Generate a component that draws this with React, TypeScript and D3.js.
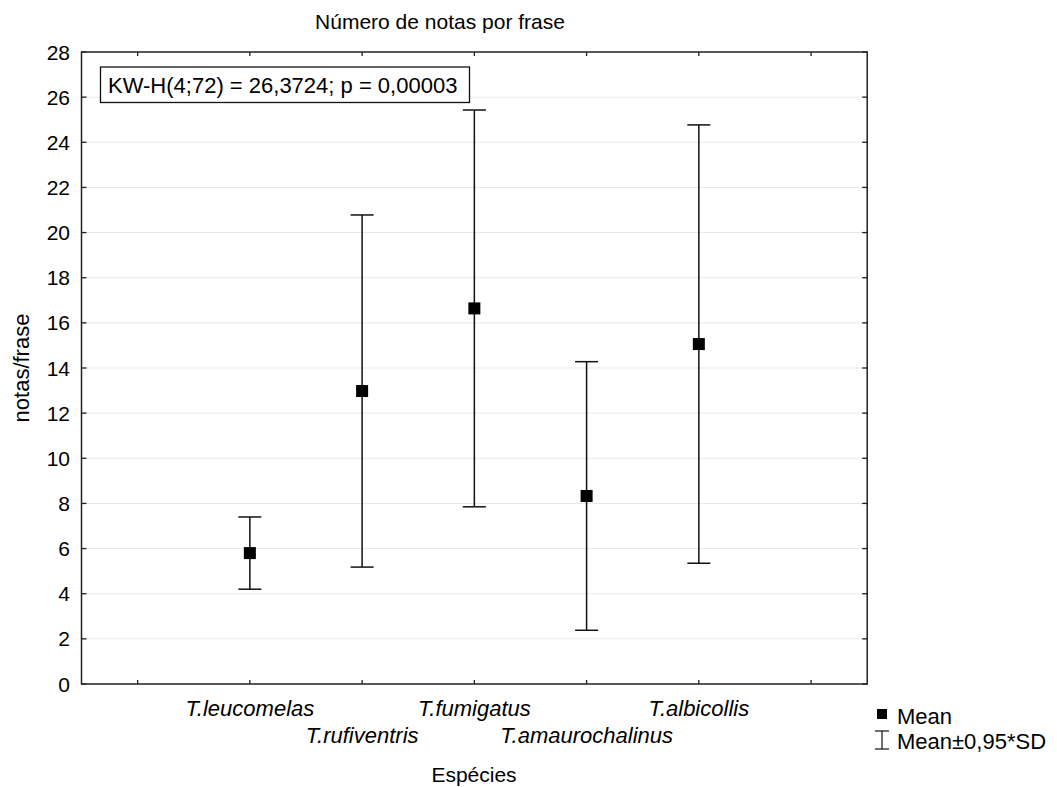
import { useEffect, useRef } from 'react';
import * as d3 from 'd3';

const species = ['T.leucomelas', 'T.rufiventris', 'T.fumigatus', 'T.amaurochalinus', 'T.albicollis'];
const means = [5.8, 12.98, 16.64, 8.33, 15.06];
const halfSD = [1.6, 7.8, 8.79, 5.95, 9.71]; // 0,95*SD
const yTicks = [0, 2, 4, 6, 8, 10, 12, 14, 16, 18, 20, 22, 24, 26, 28];
const xTicks = [0, 1, 2, 3, 4, 5, 6];

const FONT = '"Liberation Sans", Arial, sans-serif';

export default function App() {
  const svgRef = useRef<SVGSVGElement | null>(null);

  useEffect(() => {
    if (!svgRef.current) return;
    const svg = d3.select(svgRef.current);
    svg.selectAll('*').remove();

    const width = 1057;
    const height = 787;
    const margin = { top: 52, right: 190, bottom: 103, left: 81.5 };
    const left = margin.left;
    const right = width - margin.right;
    const top = margin.top;
    const bottom = height - margin.bottom;

    const x = d3.scaleLinear().domain([-0.5, 6.5]).range([left, right + 0.2]);
    const y = d3.scaleLinear().domain([0, 28]).range([bottom, top]);

    // gridlines
    svg.append('g')
      .selectAll('line')
      .data(yTicks.filter(d => d > 0 && d < 28))
      .join('line')
      .attr('x1', left).attr('x2', x(6.5))
      .attr('y1', d => y(d)).attr('y2', d => y(d))
      .attr('stroke', '#cfcfcf')
      .attr('stroke-width', 1)
      .attr('stroke-dasharray', '1,1');

    // frame
    svg.append('rect')
      .attr('x', left).attr('y', top)
      .attr('width', x(6.5) - left).attr('height', bottom - top)
      .attr('fill', 'none').attr('stroke', '#222').attr('stroke-width', 1.5);

    // inward ticks
    const ax = svg.append('g').attr('stroke', '#222').attr('stroke-width', 1.3);
    yTicks.forEach(t => {
      ax.append('line').attr('x1', left).attr('x2', left + 5).attr('y1', y(t)).attr('y2', y(t));
      ax.append('line').attr('x1', x(6.5)).attr('x2', x(6.5) - 5).attr('y1', y(t)).attr('y2', y(t));
    });
    xTicks.forEach(t => {
      ax.append('line').attr('x1', x(t)).attr('x2', x(t)).attr('y1', bottom).attr('y2', bottom - 4);
      ax.append('line').attr('x1', x(t)).attr('x2', x(t)).attr('y1', top).attr('y2', top + 4);
    });

    // y tick labels
    svg.append('g')
      .selectAll('text')
      .data(yTicks)
      .join('text')
      .attr('x', 70)
      .attr('y', d => y(d) + 7.5)
      .attr('text-anchor', 'end')
      .attr('font-family', FONT)
      .attr('font-size', 21)
      .attr('fill', '#000')
      .text(d => d);

    // category labels, staggered
    svg.append('g')
      .selectAll('text')
      .data(species)
      .join('text')
      .attr('x', (_, i) => x(i + 1))
      .attr('y', (_, i) => (i % 2 === 0 ? 716 : 743))
      .attr('text-anchor', 'middle')
      .attr('font-family', FONT)
      .attr('font-style', 'italic')
      .attr('font-size', 22)
      .attr('fill', '#000')
      .text(d => d);

    // error bars
    const capW = 11.5;
    const eb = svg.append('g').attr('stroke', '#111').attr('stroke-width', 1.5);
    species.forEach((_, i) => {
      const cx = x(i + 1);
      const hi = y(means[i] + halfSD[i]);
      const lo = y(means[i] - halfSD[i]);
      eb.append('line').attr('x1', cx).attr('x2', cx).attr('y1', hi).attr('y2', lo);
      eb.append('line').attr('x1', cx - capW).attr('x2', cx + capW).attr('y1', hi).attr('y2', hi);
      eb.append('line').attr('x1', cx - capW).attr('x2', cx + capW).attr('y1', lo).attr('y2', lo);
    });

    // means
    const ms = 12;
    svg.append('g')
      .selectAll('rect')
      .data(means)
      .join('rect')
      .attr('x', (_, i) => x(i + 1) - ms / 2)
      .attr('y', d => y(d) - ms / 2)
      .attr('width', ms).attr('height', ms)
      .attr('fill', '#000');

    // stats box
    svg.append('rect')
      .attr('x', 100.5).attr('y', 67)
      .attr('width', 369).attr('height', 35.5)
      .attr('fill', '#fff').attr('stroke', '#111').attr('stroke-width', 1.3);
    svg.append('text')
      .attr('x', 108).attr('y', 93)
      .attr('font-family', FONT).attr('font-size', 22).attr('fill', '#000')
      .text('KW-H(4;72) = 26,3724; p = 0,00003');

    // title and axis labels
    svg.append('text')
      .attr('x', 440).attr('y', 29)
      .attr('text-anchor', 'middle')
      .attr('font-family', FONT).attr('font-size', 21).attr('fill', '#000')
      .text('Número de notas por frase');
    svg.append('text')
      .attr('x', 474).attr('y', 782)
      .attr('text-anchor', 'middle')
      .attr('font-family', FONT).attr('font-size', 21).attr('fill', '#000')
      .text('Espécies');
    svg.append('text')
      .attr('transform', `translate(29,${(top + bottom) / 2}) rotate(-90)`)
      .attr('text-anchor', 'middle')
      .attr('font-family', FONT).attr('font-size', 22).attr('fill', '#000')
      .text('notas/frase');

    // legend
    const lg = svg.append('g');
    lg.append('rect').attr('x', 877).attr('y', 709).attr('width', 10).attr('height', 10).attr('fill', '#000');
    lg.append('text').attr('x', 897).attr('y', 724)
      .attr('font-family', FONT).attr('font-size', 22).attr('fill', '#000').text('Mean');
    const lgl = lg.append('g').attr('stroke', '#111').attr('stroke-width', 1.2);
    lgl.append('line').attr('x1', 882).attr('x2', 882).attr('y1', 731).attr('y2', 749);
    lgl.append('line').attr('x1', 875).attr('x2', 889).attr('y1', 731).attr('y2', 731);
    lgl.append('line').attr('x1', 875).attr('x2', 889).attr('y1', 749).attr('y2', 749);
    lg.append('text').attr('x', 897).attr('y', 749)
      .attr('font-family', FONT).attr('font-size', 22).attr('fill', '#000').text('Mean±0,95*SD');
  }, []);

  return (
    <svg
      ref={svgRef}
      width={1057}
      height={787}
      style={{ position: 'absolute', left: 0, top: 0, background: '#fff' }}
    />
  );
}
